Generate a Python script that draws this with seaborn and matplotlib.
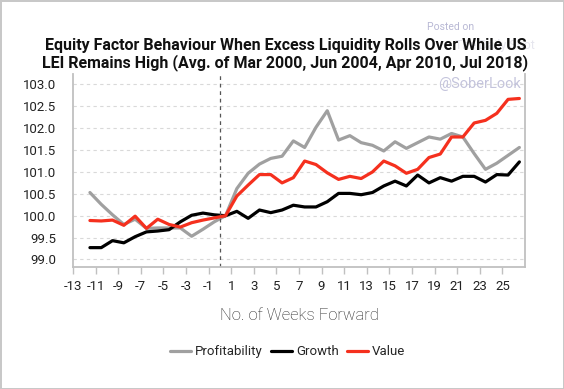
import numpy as np
import pandas as pd
import matplotlib
matplotlib.use("Agg")
import matplotlib.pyplot as plt
import seaborn as sns

# semaines (points placés entre les graduations, comme dans l'original)
weeks = np.arange(-11.5, 27.0, 1.0)

profitability = [100.53, 100.26, 100.02, 99.80, 99.92, 99.71, 99.72, 99.72, 99.72, 99.53,
                 99.69, 99.86, 100.00, 100.62, 100.97, 101.18, 101.31, 101.36, 101.71, 101.56,
                 102.02, 102.40, 101.73, 101.83, 101.67, 101.61, 101.48, 101.69, 101.54, 101.67,
                 101.80, 101.75, 101.88, 101.80, 101.42, 101.06, 101.20, 101.38, 101.56]
growth = [99.27, 99.27, 99.43, 99.38, 99.52, 99.63, 99.65, 99.68, 99.86, 100.01,
          100.06, 100.02, 100.00, 100.10, 99.94, 100.13, 100.07, 100.13, 100.24, 100.20,
          100.20, 100.32, 100.51, 100.51, 100.48, 100.53, 100.68, 100.79, 100.68, 100.93,
          100.75, 100.87, 100.79, 100.90, 100.90, 100.77, 100.94, 100.93, 101.23]
value = [99.89, 99.88, 99.90, 99.78, 99.99, 99.71, 99.92, 99.80, 99.74, 99.84,
         99.90, 99.95, 100.00, 100.45, 100.70, 100.94, 100.94, 100.75, 100.87, 101.25,
         101.17, 100.98, 100.83, 100.90, 100.85, 101.00, 101.25, 101.14, 100.97, 101.06,
         101.33, 101.41, 101.80, 101.80, 102.12, 102.18, 102.34, 102.66, 102.68]

series_names = ["Profitability", "Growth", "Value"]
colors = {"Profitability": "#a0a0a0", "Growth": "#000000", "Value": "#f5301e"}
x_ticks = list(range(-13, 27, 2))
y_ticks = [99.0, 99.5, 100.0, 100.5, 101.0, 101.5, 102.0, 102.5, 103.0]

df = pd.DataFrame({"week": weeks, "Profitability": profitability,
                   "Growth": growth, "Value": value})
long_df = df.melt(id_vars="week", var_name="factor", value_name="level")

sns.set_theme(style="white")
plt.rcParams["font.family"] = ["Roboto", "DejaVu Sans"]
plt.rcParams["axes.unicode_minus"] = False

fig = plt.figure(figsize=(5.64, 3.89), dpi=100)
fig.patch.set_edgecolor("#c8c8c8")
fig.patch.set_linewidth(2)
ax = fig.add_axes([0.1294, 0.3128, 0.8015, 0.497])

sns.lineplot(data=long_df, x="week", y="level", hue="factor",
             hue_order=series_names, palette=colors, linewidth=2.3,
             legend=False, ax=ax)

# ligne verticale au point de départ
ax.axvline(0, color="#555555", linestyle=(0, (3, 3)), linewidth=0.9)

ax.set_xlim(-13, 27)
ax.set_ylim(98.82, 103.24)
ax.set_xticks(x_ticks)
ax.set_xticklabels([str(t) for t in x_ticks], fontsize=9.5, color="#222222")
ax.set_yticks(y_ticks)
ax.set_yticklabels([f"{t:.1f}" for t in y_ticks], fontsize=9.5, color="#222222")
ax.yaxis.grid(True, color="#d9d9d9", linestyle=(0, (3, 3)), linewidth=0.8)
ax.tick_params(axis="x", bottom=True, direction="out", length=5, width=1,
               color="#c0c0c0", pad=4)
ax.tick_params(axis="y", left=False, pad=6)

for side in ["left", "bottom", "right"]:
    ax.spines[side].set_color("#c0c0c0")
    ax.spines[side].set_linewidth(1.3)
ax.spines["top"].set_visible(False)

ax.set_xlabel("No. of Weeks Forward", fontsize=12, fontweight="light",
              color="#222222", labelpad=11)
ax.set_ylabel("")

fig.text(0.506, 0.86,
         "Equity Factor Behaviour When Excess Liquidity Rolls Over While US\n"
         "LEI Remains High (Avg. of Mar 2000, Jun 2004, Apr 2010, Jul 2018)",
         ha="center", va="center", fontsize=11.5, fontweight="bold",
         color="#111111", linespacing=1.1)

ax.text(0.99, 0.95, "@SoberLook", transform=ax.transAxes, ha="right", va="center",
        fontsize=10.5, color="#c4c4dc")
fig.text(0.757, 0.930, "Posted on", fontsize=7.5, color="#b8b8d4", ha="left", va="center")
fig.text(0.807, 0.884, "The Daily Shot", fontsize=9, color="#e6e6ee", ha="left",
         va="center", zorder=0)

handles = [plt.Line2D([], [], color=colors[n], linewidth=2.3) for n in series_names]
fig.legend(handles, series_names, loc="center", bbox_to_anchor=(0.51, 0.096),
           ncol=3, frameon=False, fontsize=9.5, handlelength=1.6,
           handletextpad=0.3, columnspacing=0.6)

fig.savefig("out.png", dpi=100, edgecolor=fig.get_edgecolor())
